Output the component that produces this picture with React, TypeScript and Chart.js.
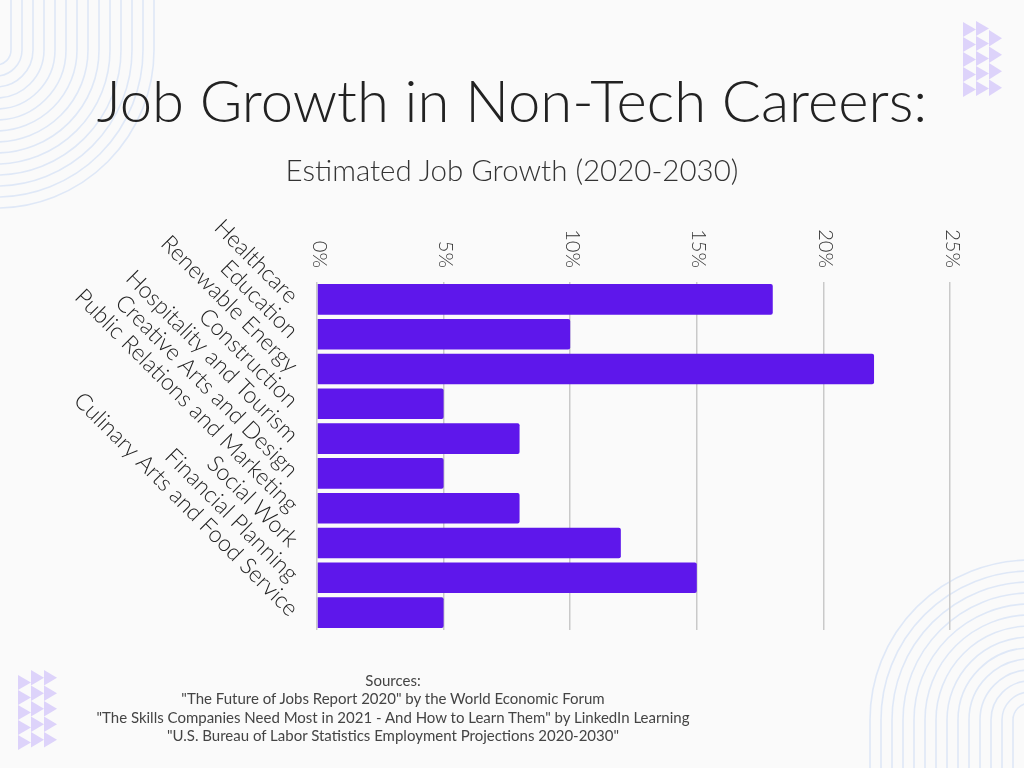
import React, { useEffect, useRef } from "react";
import { Chart, registerables } from "chart.js";

Chart.register(...registerables);

const categories = [
  "Healthcare",
  "Education",
  "Renewable Energy",
  "Construction",
  "Hospitality and Tourism",
  "Creative Arts and Design",
  "Public Relations and Marketing",
  "Social Work",
  "Financial Planning",
  "Culinary Arts and Food Service",
];
const growthPercent = [18, 10, 22, 5, 8, 5, 8, 12, 15, 5];
const xTickValues = [0, 5, 10, 15, 20, 25];
const xTickLabels = ["0%", "5%", "10%", "15%", "20%", "25%"];

const titleText = "Job Growth in Non-Tech Careers:";
const subtitleText = "Estimated Job Growth (2020-2030)";
const sourceLines = [
  "Sources:",
  "\"The Future of Jobs Report 2020\" by the World Economic Forum",
  "\"The Skills Companies Need Most in 2021 - And How to Learn Them\" by LinkedIn Learning",
  "\"U.S. Bureau of Labor Statistics Employment Projections 2020-2030\"",
];

const FONT = "Lato, 'Open Sans', sans-serif";

const topTickLabels = {
  id: "topTickLabels",
  afterDraw(chart: any) {
    const scale = chart.scales.x;
    const ctx = chart.ctx;
    ctx.save();
    ctx.fillStyle = "#333333";
    ctx.font = `300 20px ${FONT}`;
    ctx.textAlign = "right";
    ctx.textBaseline = "middle";
    xTickValues.forEach((v, i) => {
      const x = scale.getPixelForValue(v) + 2;
      ctx.save();
      ctx.translate(x, chart.chartArea.top - 14);
      ctx.rotate(Math.PI / 2);
      ctx.fillText(xTickLabels[i], 0, 0);
      ctx.restore();
    });
    ctx.restore();
  },
};

function Decorations() {
  const tl: string[] = [];
  for (let i = 0; i < 14; i++) {
    const r = 15 + 11 * i;
    const cx = -4;
    const cy = 50;
    tl.push(`M ${cx + r} 0 L ${cx + r} ${cy} A ${r} ${r} 0 0 1 ${cx} ${cy + r} L -10 ${cy + r}`);
  }
  const br: string[] = [];
  for (let i = 0; i < 14; i++) {
    const r = 17 + 11 * i;
    const cx = 1030;
    const cy = 720;
    br.push(`M ${cx - r} 780 L ${cx - r} ${cy} A ${r} ${r} 0 0 1 ${cx} ${cy - r}`);
  }
  const tris: string[] = [];
  const addCol = (x: number, y0: number, rows: number, h: number) => {
    for (let k = 0; k < rows; k++) {
      const y = y0 + k * h;
      tris.push(`M ${x} ${y} L ${x + 13} ${y + h / 2} L ${x} ${y + h} Z`);
    }
  };
  addCol(963, 22, 5, 15);
  addCol(976, 21, 5, 15);
  addCol(989, 30, 4, 16.5);
  addCol(18, 675, 5, 15);
  addCol(31, 670, 5, 15.5);
  addCol(44, 670, 5, 15.5);
  return (
    <svg
      width={1024}
      height={768}
      style={{ position: "absolute", left: 0, top: 0 }}
    >
      {tl.map((d, i) => (
        <path key={"a" + i} d={d} fill="none" stroke="#dfe8f7" strokeWidth={1.6} />
      ))}
      {br.map((d, i) => (
        <path key={"b" + i} d={d} fill="none" stroke="#dfe8f7" strokeWidth={1.6} />
      ))}
      {tris.map((d, i) => (
        <path key={"t" + i} d={d} fill="#ddd3fa" />
      ))}
    </svg>
  );
}

export default function App() {
  const canvasRef = useRef<HTMLCanvasElement | null>(null);

  useEffect(() => {
    document.body.style.margin = "0";
    const canvas = canvasRef.current;
    if (!canvas) return;
    const chart = new Chart(canvas, {
      type: "bar",
      data: {
        labels: categories,
        datasets: [
          {
            label: "Estimated Job Growth (2020-2030)",
            data: growthPercent,
            backgroundColor: "#5e17eb",
            borderRadius: 2,
            barPercentage: 0.88,
            categoryPercentage: 1,
          },
        ],
      },
      options: {
        indexAxis: "y",
        responsive: false,
        animation: false,
        layout: { padding: { top: 282, bottom: 138, right: 74, left: 0 } },
        plugins: {
          legend: { display: false },
          title: { display: false },
          tooltip: { enabled: false },
        },
        scales: {
          x: {
            position: "top",
            min: 0,
            max: 25,
            ticks: { display: false, stepSize: 5 },
            grid: { color: "#c9c9c9", lineWidth: 1.5, drawTicks: false },
            border: { display: false },
          },
          y: {
            ticks: {
              autoSkip: false,
              minRotation: -45,
              maxRotation: -45,
              padding: 15,
              color: "#222222",
              font: { family: FONT, size: 23, weight: "300" as any },
            },
            grid: { display: false },
            border: { display: false },
            afterFit: (scale: any) => {
              scale.width = 317;
            },
          },
        },
      },
      plugins: [topTickLabels],
    });
    return () => chart.destroy();
  }, []);

  return (
    <div
      style={{
        position: "absolute",
        left: 0,
        top: 0,
        width: 1024,
        height: 768,
        overflow: "hidden",
        background: "#fafafa",
        fontFamily: FONT,
      }}
    >
      <Decorations />
      <canvas
        ref={canvasRef}
        width={1024}
        height={768}
        style={{ position: "absolute", left: 0, top: 0 }}
      />
      <div
        style={{
          position: "absolute",
          left: 0,
          top: 65,
          width: 1024,
          textAlign: "center",
          fontSize: 58,
          lineHeight: "70px",
          fontWeight: 300,
          color: "#222222",
          whiteSpace: "nowrap",
        }}
      >
        {titleText}
      </div>
      <div
        style={{
          position: "absolute",
          left: 0,
          top: 152,
          width: 1024,
          textAlign: "center",
          fontSize: 29.5,
          lineHeight: "35px",
          fontWeight: 300,
          color: "#333333",
          whiteSpace: "nowrap",
        }}
      >
        {subtitleText}
      </div>
      <div
        style={{
          position: "absolute",
          left: 0,
          top: 671,
          width: 786,
          textAlign: "center",
          fontSize: 15,
          lineHeight: "18.3px",
          fontWeight: 400,
          color: "#444444",
          whiteSpace: "nowrap",
        }}
      >
        {sourceLines.map((s, i) => (
          <div key={i}>{s}</div>
        ))}
      </div>
    </div>
  );
}
